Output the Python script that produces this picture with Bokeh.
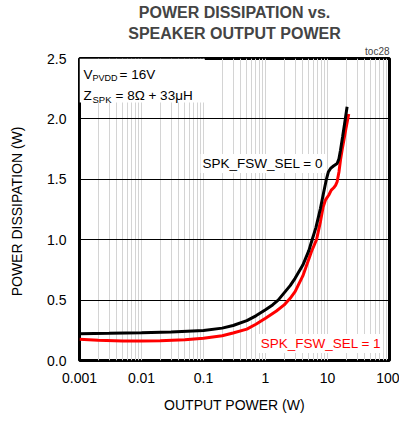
from bokeh.plotting import figure
from bokeh.models import Title, Label, FixedTicker, NumeralTickFormatter, BoxAnnotation
from bokeh.embed import file_html
from bokeh.resources import INLINE

# ---- data ----
x_ticks = [0.001, 0.01, 0.1, 1, 10, 100]
y_ticks = [0.0, 0.5, 1.0, 1.5, 2.0, 2.5]

sel0_pout = [0.001, 0.003, 0.01, 0.03, 0.1, 0.2, 0.3, 0.5, 0.7, 1.0, 1.3, 1.6, 2.0, 2.5, 3.0,
             4.0, 5.0, 5.65, 6.5, 7.7, 8.5, 9.6, 10.3, 11.2, 12.5, 14.3, 15.3, 16.2, 17.5, 19.0, 20.7]
sel0_pdis = [0.222, 0.225, 0.229, 0.235, 0.248, 0.268, 0.29, 0.33, 0.37, 0.42, 0.46, 0.50, 0.56, 0.62, 0.68,
             0.79, 0.91, 1.0, 1.10, 1.26, 1.37, 1.50, 1.56, 1.59, 1.61, 1.63, 1.67, 1.74, 1.85, 1.97, 2.10]

sel1_pout = [0.001, 0.002, 0.005, 0.01, 0.02, 0.05, 0.1, 0.2, 0.3, 0.5, 0.7, 1.0, 1.5, 2.0, 2.5, 3.0,
             4.0, 4.7, 5.5, 6.65, 7.7, 8.5, 9.3, 10.5, 11.5, 12.6, 13.5, 14.3, 15.3, 16.2, 17.3, 18.3, 20.0, 22.0]
sel1_pdis = [0.175, 0.168, 0.162, 0.161, 0.163, 0.172, 0.185, 0.205, 0.228, 0.26, 0.30, 0.35, 0.41, 0.46, 0.515, 0.57,
             0.70, 0.80, 0.90, 1.0, 1.15, 1.27, 1.33, 1.37, 1.41, 1.43, 1.45, 1.48, 1.56, 1.66, 1.75, 1.82, 1.93, 2.04]

FONT = "Liberation Sans"

p = figure(width=399, height=421, x_axis_type="log", x_range=(0.001, 100), y_range=(0, 2.5),
           output_backend="svg", toolbar_location=None)
p.min_border_left = 79
p.min_border_right = 10
p.min_border_top = 56
p.min_border_bottom = 61
p.background_fill_color = "white"
p.border_fill_color = "white"
p.outline_line_color = "black"
p.outline_line_width = 3

# titles (first added is nearest to the frame)
toc = Title(text="toc28", align="right", text_font=FONT, text_font_size="10px",
            text_font_style="normal", standoff=3)
t2 = Title(text="SPEAKER OUTPUT POWER", align="center", text_font=FONT, text_font_size="16px",
           text_font_style="bold", standoff=1)
t1 = Title(text="POWER DISSIPATION vs.", align="center", text_font=FONT, text_font_size="16px",
           text_font_style="bold", standoff=3)
p.add_layout(toc, "above")
p.add_layout(t2, "above")
p.add_layout(t1, "above")

minor = [m * 10.0 ** e for e in range(-3, 2) for m in range(2, 10)]
p.xaxis.ticker = FixedTicker(ticks=x_ticks, minor_ticks=minor)
p.yaxis.ticker = FixedTicker(ticks=y_ticks)
p.xaxis.formatter = NumeralTickFormatter(format="0.[000]")
p.yaxis.formatter = NumeralTickFormatter(format="0.0")

for ax in (p.xaxis, p.yaxis):
    ax.axis_line_color = None
    ax.major_tick_line_color = None
    ax.minor_tick_line_color = None
    ax.major_tick_out = 0
    ax.minor_tick_out = 0
    ax.major_label_text_font = FONT
    ax.major_label_text_font_size = "14px"
    ax.major_label_text_color = "black"
    ax.axis_label_text_font = FONT
    ax.axis_label_text_font_size = "14px"
    ax.axis_label_text_font_style = "normal"
    ax.axis_label_text_color = "black"

p.xaxis.axis_label = "OUTPUT POWER (W)"
p.yaxis.axis_label = "POWER DISSIPATION  (W)"
p.xaxis.major_label_standoff = 12
p.yaxis.major_label_standoff = 13
p.xaxis.axis_label_standoff = 11
p.yaxis.axis_label_standoff = 19

p.xgrid.grid_line_color = "#d4d4d4"
p.xgrid.minor_grid_line_color = "#d4d4d4"
p.xgrid.grid_line_width = 1
p.ygrid.grid_line_color = "black"
p.ygrid.grid_line_width = 1

# white box behind the conditions text
p.add_layout(BoxAnnotation(left=0.001, right=0.105, bottom=2.135, top=2.5,
                           fill_color="white", fill_alpha=1.0, line_color=None, level="underlay"))

p.line(sel1_pout, sel1_pdis, line_color="#ff0000", line_width=3)
p.line(sel0_pout, sel0_pdis, line_color="black", line_width=3)

def lab(x, y, text, size="14px", color="black", xo=0, yo=0, bg=None):
    l = Label(x=x, y=y, text=text, x_offset=xo, y_offset=yo, text_font=FONT, text_font_size=size,
              text_color=color, text_baseline="middle", text_align="left")
    if bg:
        l.background_fill_color = bg
        l.background_fill_alpha = 1.0
        l.padding = 2
    p.add_layout(l)

lab(0.001, 2.37, "V", size="13.5px", xo=4)
lab(0.001, 2.37, "PVDD", size="9px", xo=13, yo=-4)
lab(0.001, 2.37, "= 16V", size="13.5px", xo=40)
lab(0.001, 2.19, "Z", size="13.5px", xo=4)
lab(0.001, 2.19, "SPK", size="9.5px", xo=13, yo=-4)
lab(0.001, 2.19, "= 8\u03a9 + 33\u03bcH", size="13.5px", xo=36)

lab(0.104, 1.631, "SPK_FSW_SEL = 0", size="13.5px", color="black", bg="white", xo=-4)
lab(0.9, 0.14, "SPK_FSW_SEL = 1", size="13.5px", color="#ff0000", bg="white", xo=-4)

open("out.html", "w").write(file_html(p, INLINE))
